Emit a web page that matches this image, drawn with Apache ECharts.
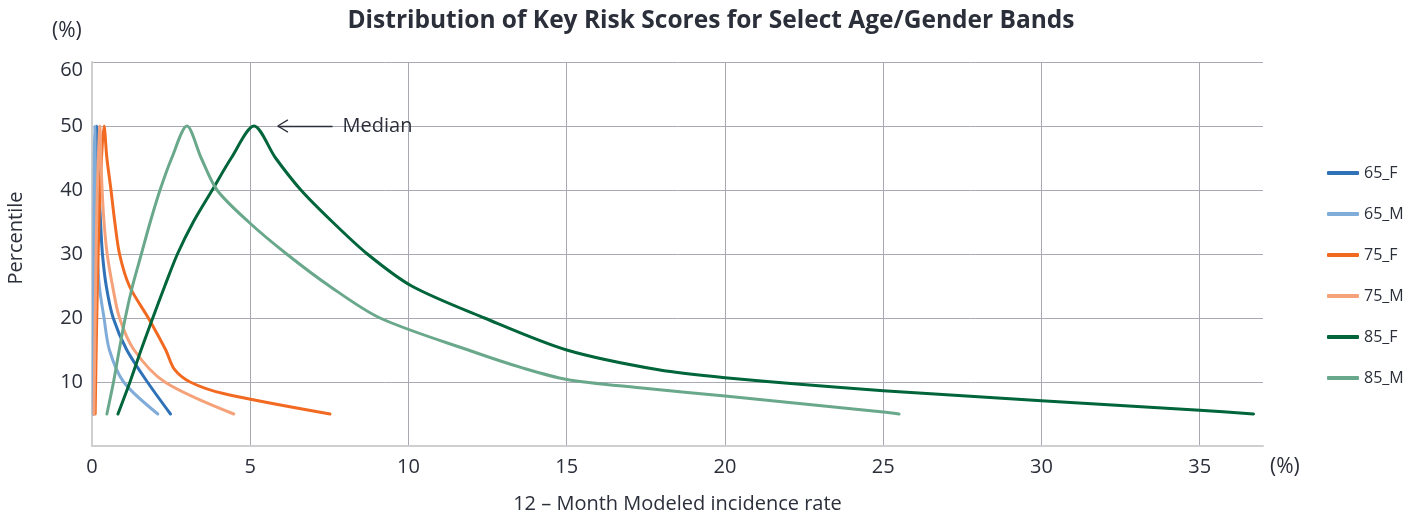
<!DOCTYPE html>
<html>
<head>
<meta charset="utf-8">
<script src="https://cdn.jsdelivr.net/npm/echarts@6/dist/echarts.min.js"></script>
<style>
html,body{margin:0;padding:0;background:#fff;}
#chart{width:1422px;height:516px;}
</style>
</head>
<body>
<div id="chart"></div>
<script>
// Series names
const seriesNames = ['65_F', '65_M', '75_F', '75_M', '85_F', '85_M'];
const seriesColors = ['#2f72b8', '#80acd9', '#f26a22', '#f5a27a', '#00653a', '#6aa88c'];

// Percentile (folded) and incidence rate (%) per band
const y65F = [5, 20, 35, 45, 50, 45, 40, 35, 30, 25, 20, 15, 10, 5];
const x65F = [0.05, 0.07, 0.09, 0.12, 0.15, 0.18, 0.22, 0.27, 0.33, 0.45, 0.67, 1.1, 1.75, 2.48];

const y65M = [5, 25, 45, 50, 45, 40, 35, 30, 25, 20, 15, 10, 5];
const x65M = [0.04, 0.05, 0.07, 0.09, 0.1, 0.12, 0.14, 0.17, 0.23, 0.38, 0.55, 1.0, 2.08];

const y75F = [5, 20, 35, 45, 50, 45, 40, 35, 30, 25, 20, 15, 12, 10, 8.2, 5];
const x75F = [0.1, 0.15, 0.22, 0.3, 0.38, 0.47, 0.6, 0.72, 0.87, 1.18, 1.78, 2.33, 2.6, 3.1, 4.15, 7.52];

const y75M = [5, 12, 20, 30, 38, 45, 50, 45, 40, 35, 30, 25, 20, 15, 10, 5];
const x75M = [0.06, 0.08, 0.1, 0.13, 0.16, 0.2, 0.25, 0.28, 0.32, 0.38, 0.48, 0.65, 0.87, 1.33, 2.3, 4.48];

const y85F = [5, 10, 15, 20, 25, 30, 35, 40, 45, 50, 45, 40, 35, 30, 25, 20, 15, 11.9, 10.67, 8.65, 7.08, 5.6, 5];
const x85F = [0.82, 1.2, 1.55, 1.92, 2.3, 2.7, 3.2, 3.8, 4.4, 5.12, 5.8, 6.6, 7.6, 8.7, 10.1, 12.4, 15.0, 17.9, 20, 25, 30, 35, 36.7];

const y85M = [5, 10, 15, 20, 25, 30, 35, 40, 45, 50, 45, 40, 35, 30, 25, 20, 14.8, 12.2, 10.4, 9.1, 7.8, 5.3, 5];
const x85M = [0.47, 0.68, 0.86, 1.05, 1.28, 1.56, 1.84, 2.15, 2.52, 3.0, 3.45, 3.95, 4.95, 6.15, 7.5, 9.1, 12, 13.6, 15, 17.3, 20, 25, 25.5];

// Median annotation (arrow tail, arrow tip, percentile)
const medianArrow = { tail: 7.6, tip: 5.87, level: 50, headDx: 0.32, headDy: 0.95 };

// Axis ticks
const xTicks = { min: 0, max: 37, interval: 5 };
const yTicks = { min: 0, max: 60, interval: 10 };

const xs = [x65F, x65M, x75F, x75M, x85F, x85M];
const ys = [y65F, y65M, y75F, y75M, y85F, y85M];

const FONT = '"Open Sans", Roboto, sans-serif';
const TXT = '#2b2f3a';

const chart = echarts.init(document.getElementById('chart'), null, { renderer: 'canvas' });

const series = seriesNames.map((name, i) => {
  const s = {
    name: name,
    type: 'line',
    data: xs[i].map((x, k) => [x, ys[i][k]]),
    showSymbol: false,
    symbol: 'none',
    smooth: 0.3,
    color: seriesColors[i],
    lineStyle: { width: 3, color: seriesColors[i], cap: 'round', join: 'round' },
    emphasis: { disabled: true },
    z: 2
  };
  if (name === '85_F') {
    const a = medianArrow;
    s.markLine = {
      silent: true,
      symbol: 'none',
      animation: false,
      lineStyle: { color: TXT, width: 1.3, type: 'solid' },
      label: { show: false },
      emphasis: { disabled: true },
      data: [
        [
          { coord: [a.tail, a.level], label: { show: true, position: 'start', formatter: 'Median', color: TXT, fontSize: 20, fontFamily: FONT, distance: 10 } },
          { coord: [a.tip, a.level] }
        ],
        [ { coord: [a.tip, a.level] }, { coord: [a.tip + a.headDx, a.level + a.headDy] } ],
        [ { coord: [a.tip, a.level] }, { coord: [a.tip + a.headDx, a.level - a.headDy] } ]
      ]
    };
  }
  return s;
});

const option = {
  animation: false,
  backgroundColor: '#fff',
  title: {
    text: 'Distribution of Key Risk Scores for Select Age/Gender Bands',
    left: 'center',
    top: 4,
    textStyle: { fontFamily: FONT, fontSize: 24.5, fontWeight: 'bold', color: TXT }
  },
  legend: {
    orient: 'vertical',
    left: 1322,
    top: 160,
    itemWidth: 32,
    itemHeight: 4,
    itemGap: 25,
    icon: 'roundRect',
    data: seriesNames,
    textStyle: { fontFamily: FONT, fontSize: 16, color: TXT, lineHeight: 16 }
  },
  grid: { left: 92, right: 159, top: 62, bottom: 70, containLabel: false, outerBoundsMode: 'none' },
  xAxis: {
    type: 'value',
    min: xTicks.min, max: xTicks.max, interval: xTicks.interval,
    name: '12 – Month Modeled incidence rate',
    nameLocation: 'middle',
    nameGap: 48,
    nameTextStyle: { fontFamily: FONT, fontSize: 20, color: TXT },
    axisLine: { show: true, lineStyle: { color: '#cfcfcf', width: 2 } },
    axisTick: { show: false },
    axisLabel: { fontFamily: FONT, fontSize: 20, color: TXT, margin: 11, showMaxLabel: false },
    splitLine: { show: true, showMinLine: false, showMaxLine: false, lineStyle: { color: '#a9a9b3', width: 1 } }
  },
  yAxis: {
    type: 'value',
    min: yTicks.min, max: yTicks.max, interval: yTicks.interval,
    axisLine: { show: true, lineStyle: { color: '#cfcfcf', width: 2 } },
    axisTick: { show: false },
    axisLabel: {
      fontFamily: FONT, fontSize: 20, color: TXT, margin: 9, showMinLabel: false,
      formatter: v => (v === yTicks.max ? '{t|' + v + '}' : String(v)),
      rich: { t: { fontFamily: FONT, fontSize: 20, color: TXT, padding: [16, 0, 0, 0] } }
    },
    splitLine: { show: true, showMinLine: false, lineStyle: { color: '#a9a9b3', width: 1 } }
  },
  graphic: [
    { type: 'text', left: 52, top: 21, style: { text: '(%)', fontFamily: FONT, fontSize: 21, fill: TXT } },
    { type: 'text', left: 1270, top: 457, style: { text: '(%)', fontFamily: FONT, fontSize: 21, fill: TXT } },
    { type: 'text', x: 16, y: 238, rotation: Math.PI / 2,
      style: { text: 'Percentile', fontFamily: FONT, fontSize: 20, fill: TXT, align: 'center', verticalAlign: 'middle' } }
  ],
  series: series
};

chart.setOption(option);
</script>
</body>
</html>
